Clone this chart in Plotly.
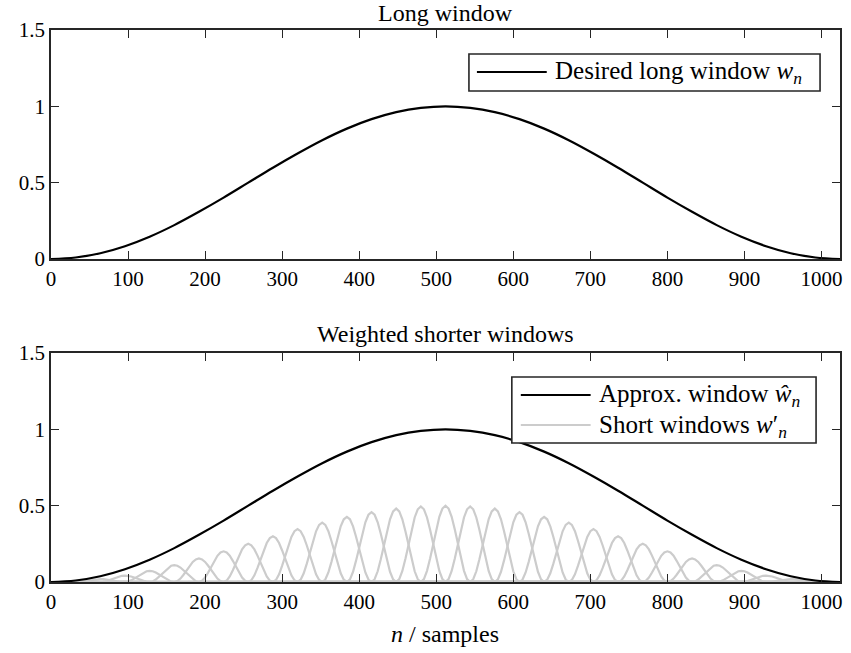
import plotly.graph_objects as go
from plotly.subplots import make_subplots

# ---------------- data ----------------
n_long = [0, 32, 64, 96, 128, 160, 192, 224, 256, 288, 320, 352, 384, 416, 448, 480, 512,
          544, 576, 608, 640, 672, 704, 736, 768, 800, 832, 864, 896, 928, 960, 992, 1024]
w_long = [0.0, 0.01, 0.038, 0.084, 0.146, 0.222, 0.309, 0.402, 0.5, 0.598, 0.691, 0.778, 0.854,
          0.916, 0.962, 0.99, 1.0, 0.99, 0.962, 0.916, 0.854, 0.778, 0.691, 0.598, 0.5, 0.402,
          0.309, 0.222, 0.146, 0.084, 0.038, 0.01, 0.0]

n_approx = n_long
w_approx = [0.0, 0.01, 0.038, 0.084, 0.146, 0.222, 0.309, 0.402, 0.5, 0.598, 0.691, 0.778, 0.854,
            0.916, 0.962, 0.99, 1.0, 0.99, 0.962, 0.916, 0.854, 0.778, 0.691, 0.598, 0.5, 0.402,
            0.309, 0.222, 0.146, 0.084, 0.038, 0.01, 0.0]

short_centers = [32, 64, 96, 128, 160, 192, 224, 256, 288, 320, 352, 384, 416, 448, 480, 512,
                 544, 576, 608, 640, 672, 704, 736, 768, 800, 832, 864, 896, 928, 960, 992]
short_peaks = [0.005, 0.019, 0.042, 0.073, 0.111, 0.154, 0.201, 0.25, 0.299, 0.346, 0.389,
               0.427, 0.458, 0.481, 0.495, 0.5, 0.495, 0.481, 0.458, 0.427, 0.389, 0.346, 0.299,
               0.25, 0.201, 0.154, 0.111, 0.073, 0.042, 0.019, 0.005]
bump_offsets = [-32, -28, -24, -20, -16, -12, -8, -4, 0, 4, 8, 12, 16, 20, 24, 28, 32]
bump_shape = [0.0, 0.038, 0.146, 0.309, 0.5, 0.691, 0.854, 0.962, 1.0,
              0.962, 0.854, 0.691, 0.5, 0.309, 0.146, 0.038, 0.0]
n_first, n_last = 0, 1023

x_ticks = [0, 100, 200, 300, 400, 500, 600, 700, 800, 900, 1000]
y_ticks = [0, 0.5, 1, 1.5]
y_tick_text = ["0", "0.5", "1", "1.5"]

# ---------------- figure ----------------
W, H = 851, 653
ML, MR, MT, MB = 51, 9, 30, 71
PW, PH = W - ML - MR, H - MT - MB

def px(x):
    return (x - ML) / PW

def py(y):
    return 1 - (y - MT) / PH

FONT = "Liberation Serif"
AX = "#262626"
GREY = "#cccccc"

fig = make_subplots(rows=2, cols=1, vertical_spacing=0.0)

fig.add_trace(go.Scatter(x=n_long, y=w_long, mode="lines", line=dict(color="black", width=2.2, shape="spline"),
                         name="Desired long window", showlegend=False), row=1, col=1)

for c, p in zip(short_centers, short_peaks):
    xs = [n_first] + [c + o for o in bump_offsets] + [n_last]
    ys = [0.0] + [p * s for s in bump_shape] + [0.0]
    fig.add_trace(go.Scatter(x=xs, y=ys, mode="lines", line=dict(color=GREY, width=2.2),
                             showlegend=False, hoverinfo="skip"), row=2, col=1)

fig.add_trace(go.Scatter(x=n_approx, y=w_approx, mode="lines", line=dict(color="black", width=2.2, shape="spline"),
                         name="Approx. window", showlegend=False), row=2, col=1)

tickfont = dict(family=FONT, size=21, color="black")
axis_common = dict(showline=True, linecolor=AX, linewidth=1.6, mirror="ticks", ticks="inside",
                   ticklen=8, tickwidth=1.4, tickcolor=AX, showgrid=False, zeroline=False,
                   tickfont=tickfont)

top_dom = [1 - (259 - MT) / PH, 1]
bot_dom = [0, 1 - (353 - MT) / PH]

fig.update_layout(
    width=W, height=H, margin=dict(l=ML, r=MR, t=MT, b=MB),
    plot_bgcolor="white", paper_bgcolor="white",
    font=dict(family=FONT, size=21, color="black"),
    xaxis=dict(range=[0, 1024], tickvals=x_ticks, ticktext=[str(v) for v in x_ticks], **axis_common),
    yaxis=dict(range=[0, 1.5], tickvals=y_ticks, ticktext=y_tick_text, domain=top_dom, **axis_common),
    xaxis2=dict(range=[0, 1024], tickvals=x_ticks, ticktext=[str(v) for v in x_ticks], **axis_common),
    yaxis2=dict(range=[0, 1.5], tickvals=y_ticks, ticktext=y_tick_text, domain=bot_dom, **axis_common),
)

annotations = [
    dict(text="Long window", x=px(446), y=py(13), xref="paper", yref="paper", showarrow=False,
         font=dict(family=FONT, size=24, color="black"), xanchor="center", yanchor="middle"),
    dict(text="Weighted shorter windows", x=px(446), y=py(334), xref="paper", yref="paper", showarrow=False,
         font=dict(family=FONT, size=24, color="black"), xanchor="center", yanchor="middle"),
    dict(text="<i>n</i> / samples", x=px(446), y=py(634), xref="paper", yref="paper", showarrow=False,
         font=dict(family=FONT, size=24, color="black"), xanchor="center", yanchor="middle"),
    dict(text="Desired long window <i>w</i><sub><i>n</i></sub>", x=px(554), y=py(72), xref="paper", yref="paper",
         showarrow=False, font=dict(family=FONT, size=25, color="black"), xanchor="left", yanchor="middle"),
    dict(text="Approx. window <i>&#373;</i><sub><i>n</i></sub>", x=px(598), y=py(395), xref="paper", yref="paper",
         showarrow=False, font=dict(family=FONT, size=25, color="black"), xanchor="left", yanchor="middle"),
    dict(text="Short windows <i>w</i>&#8242;<sub><i>n</i></sub>", x=px(598), y=py(426), xref="paper", yref="paper",
         showarrow=False, font=dict(family=FONT, size=25, color="black"), xanchor="left", yanchor="middle"),
]

shapes = [
    dict(type="rect", xref="paper", yref="paper", x0=px(470), x1=px(822), y0=py(91), y1=py(54),
         line=dict(color=AX, width=1.6), fillcolor="white", layer="above"),
    dict(type="line", xref="paper", yref="paper", x0=px(478), x1=px(548), y0=py(72), y1=py(72),
         line=dict(color="black", width=2.2), layer="above"),
    dict(type="rect", xref="paper", yref="paper", x0=px(513), x1=px(818), y0=py(443), y1=py(377),
         line=dict(color=AX, width=1.6), fillcolor="white", layer="above"),
    dict(type="line", xref="paper", yref="paper", x0=px(522), x1=px(592), y0=py(395), y1=py(395),
         line=dict(color="black", width=2.2), layer="above"),
    dict(type="line", xref="paper", yref="paper", x0=px(522), x1=px(592), y0=py(425), y1=py(425),
         line=dict(color=GREY, width=2.2), layer="above"),
]

fig.update_layout(annotations=annotations, shapes=shapes)
fig.write_html("out.html")
